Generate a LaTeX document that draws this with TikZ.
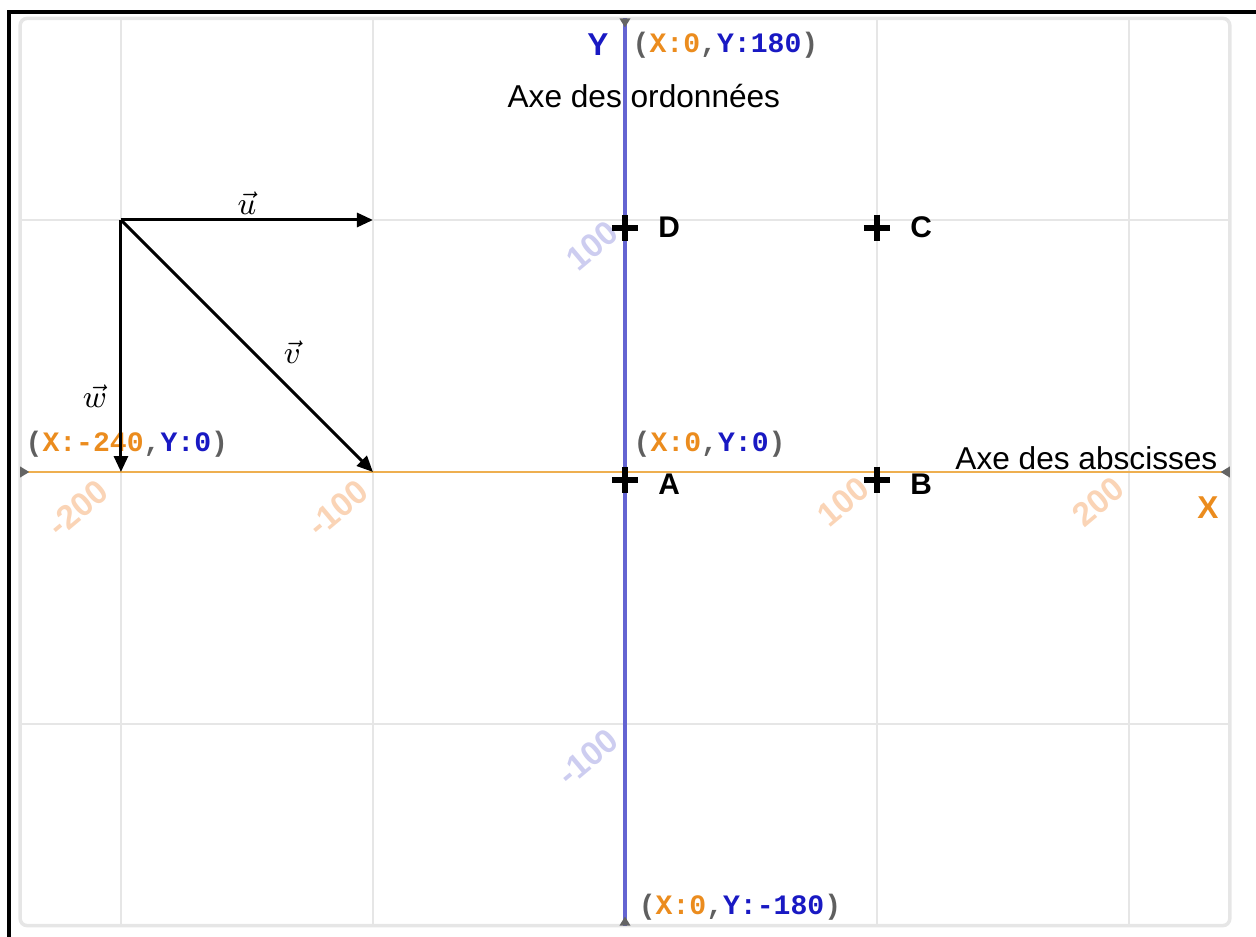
\documentclass[tikz,border=0pt]{standalone}
\usepackage{fontspec}
\usepackage{tikz}
\usetikzlibrary{arrows.meta, positioning}
\setmainfont{Liberation Sans}
\newfontfamily\coordfont{Liberation Mono}
\definecolor{scrorange}{RGB}{235,140,30}
\definecolor{scrblue}{RGB}{25,25,195}
\definecolor{scrgray}{RGB}{95,95,95}
\definecolor{axblue}{RGB}{100,100,210}
\definecolor{axorange}{RGB}{238,175,80}
\definecolor{gridgray}{RGB}{230,230,230}
\definecolor{tickorange}{RGB}{250,212,182}
\definecolor{tickblue}{RGB}{205,205,240}
\definecolor{tipgray}{RGB}{100,100,100}
\newcommand{\stagepos}[2]{\textcolor{scrgray}{(}\textcolor{scrorange}{X:#1}%
  \textcolor{scrgray}{,}\textcolor{scrblue}{Y:#2}\textcolor{scrgray}{)}}
\tikzset{
  gridline/.style={gridgray, line width=0.7pt},
  vecarrow/.style={-{Triangle[length=1.6mm,width=1.4mm]}, line width=0.85pt, black},
  veclabel/.style={font=\fontsize{9}{11}\selectfont, inner sep=0pt},
  pluspt/.style={minimum size=0.26cm, inner sep=0pt, path picture={
      \draw[line width=1.7pt] (path picture bounding box.north) -- (path picture bounding box.south)
        (path picture bounding box.west) -- (path picture bounding box.east);}},
  ptlabel/.style={font=\bfseries\fontsize{8.5}{10}\selectfont, inner sep=0pt},
  coordlabel/.style={font=\coordfont\bfseries\fontsize{8}{10}\selectfont,
    anchor=west, inner sep=0pt},
  axname/.style={font=\fontsize{9}{11}\selectfont, anchor=base, inner sep=0pt},
  axletter/.style={font=\bfseries\fontsize{9}{11}\selectfont, inner sep=0pt},
  ticklabel/.style={font=\bfseries\fontsize{9.5}{11}\selectfont, rotate=40, inner sep=0pt}
}

\begin{document}
\begin{tikzpicture}[x=0.0252cm, y=0.0252cm]
  \useasboundingbox (-248,-184.5) rectangle (250.4,187.3);

  % Stage and grid
  \draw[gridgray, line width=1pt, rounded corners=2] (-240,-180) rectangle (240,180);
  \foreach \gx in {-200,-100,100,200}
    \draw[gridline] (\gx,-180) -- (\gx,180);
  \foreach \gy in {-100,100}
    \draw[gridline] (-240,\gy) -- (240,\gy);

  % Frame
  \draw[line width=1.15pt] (-244.6,-184.5) -- (-244.6,182.7) -- (250.4,182.7);

  % Tick labels
  \node[ticklabel, tickorange] (tm200) at (-217,-14.3) {-200};
  \node[ticklabel, tickorange] (tm100) at (-113.9,-14.3) {-100};
  \node[ticklabel, tickorange] (tp100) at (86.5,-11.9) {100};
  \node[ticklabel, tickorange] (tp200) at (187.7,-11.9) {200};
  \node[ticklabel, tickblue] (ty100) at (-13.1,89.7) {100};
  \node[ticklabel, tickblue] (tym100) at (-14.7,-113.1) {-100};

  % Axes
  \coordinate (xleft) at (-240,0);
  \coordinate (xright) at (240,0);
  \coordinate (ytop) at (0,180);
  \coordinate (ybot) at (0,-180);
  \draw[axorange, line width=0.6pt] (xleft) -- (xright);
  \draw[axblue, line width=0.95pt] (ytop) -- (ybot);
  \fill[tipgray] (-240,2.2) -- (-240,-2.2) -- (-236.4,0) -- cycle;
  \fill[tipgray] (240,2.2) -- (240,-2.2) -- (236.4,0) -- cycle;
  \fill[tipgray] (-2.2,180) -- (2.2,180) -- (0,176.4) -- cycle;
  \fill[tipgray] (-2.2,-180) -- (2.2,-180) -- (0,-176.4) -- cycle;
  \node[axletter, scrblue] (ylet) at (-10.7,169.4) {Y};
  \node[axletter, scrorange] (xlet) at (231.3,-14.3) {X};
  \node[axname] (yname) at (7.5,144.8) {Axe des ordonnées};
  \node[axname] (xname) at (183.1,0.8) {Axe des abscisses};

  % Stage positions
  \node[coordlabel] (ctop) at (2.8,169.4) {\stagepos{0}{180}};
  \node[coordlabel] (corig) at (3.2,11.1) {\stagepos{0}{0}};
  \node[coordlabel] (cleft) at (-238.1,11.1) {\stagepos{-240}{0}};
  \node[coordlabel] (cbot) at (5.2,-172.6) {\stagepos{0}{-180}};

  % Points
  \node[pluspt] (ptA) at (0,-3) {};
  \node[pluspt] (ptB) at (100,-3) {};
  \node[pluspt] (ptC) at (100,97) {};
  \node[pluspt] (ptD) at (0,97) {};
  \node[ptlabel, right=0.19cm of ptA, yshift=-0.5mm] (lblA) {A};
  \node[ptlabel, right=0.19cm of ptB, yshift=-0.5mm] (lblB) {B};
  \node[ptlabel, right=0.19cm of ptC] (lblC) {C};
  \node[ptlabel, right=0.19cm of ptD] (lblD) {D};

  % Vectors
  \coordinate (vo) at (-200,100);
  \coordinate (vu) at (-100,100);
  \coordinate (vv) at (-100,0);
  \coordinate (vw) at (-200,0);
  \draw[vecarrow] (vo) -- (vu);
  \draw[vecarrow] (vo) -- (vv);
  \draw[vecarrow] (vo) -- (vw);
  \node[veclabel] (lu) at (-150,106.7) {$\vec{u}$};
  \node[veclabel] (lv) at (-132,47.6) {$\vec{v}$};
  \node[veclabel] (lw) at (-210.3,30.2) {$\vec{w}$};
\end{tikzpicture}
\end{document}
